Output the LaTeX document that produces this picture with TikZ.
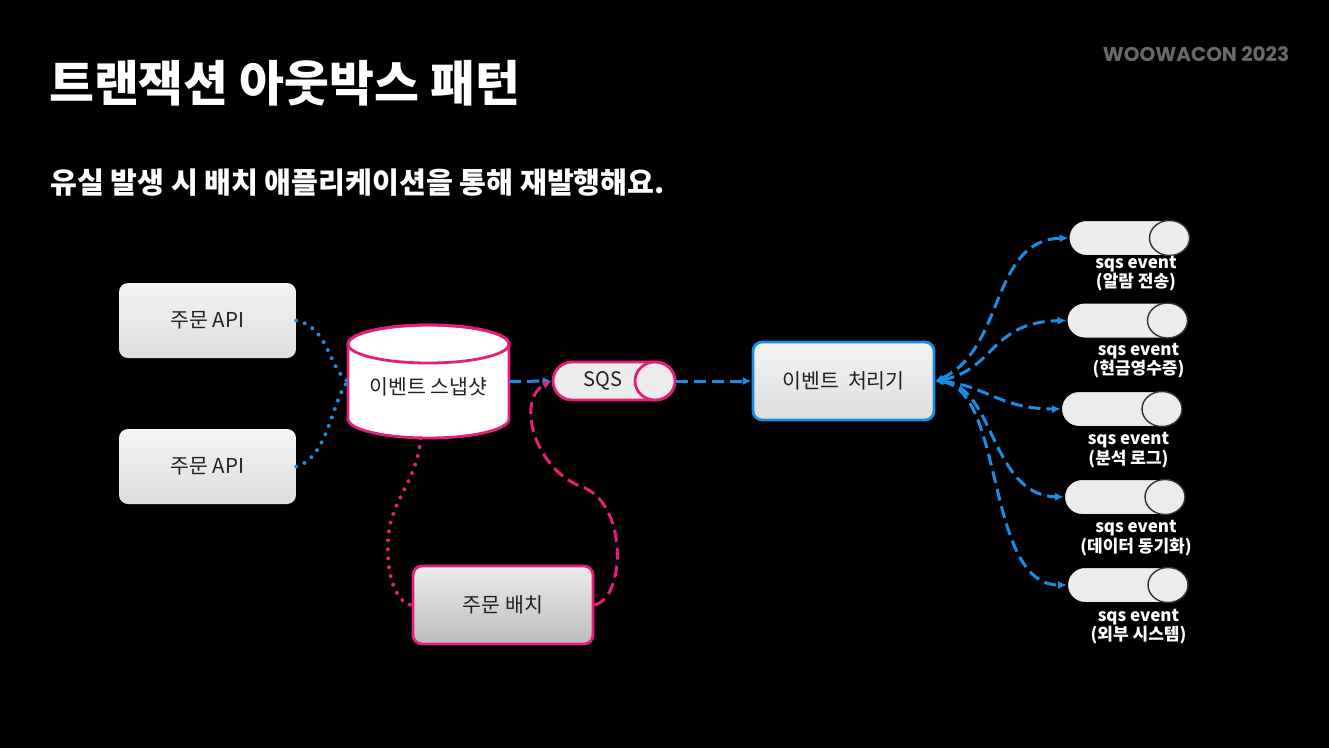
\documentclass[tikz,border=0pt]{standalone}
\usepackage{fontspec}
\setmainfont{Noto Sans CJK KR}
\newfontfamily\brandfont{Poppins}
\usetikzlibrary{arrows.meta}
\definecolor{pinkc}{RGB}{230,30,122}
\definecolor{bluec}{RGB}{25,140,228}
\definecolor{boxgray}{RGB}{236,236,236}
\definecolor{boxgrayb}{RGB}{222,222,222}
\definecolor{txtdark}{RGB}{34,34,34}
\definecolor{wgray}{RGB}{105,105,105}
\tikzset{
  apibox/.style={rectangle, rounded corners=9pt, minimum width=177pt, minimum height=75pt,
    top color=boxgray!60!white, bottom color=boxgrayb, draw=none, text=txtdark,
    font=\fontsize{20.5}{24}\selectfont},
  batchbox/.style={rectangle, rounded corners=9pt, minimum width=180pt, minimum height=78pt,
    top color=boxgray, bottom color=boxgrayb!85!black, draw=pinkc, line width=2.8pt, text=txtdark,
    font=\fontsize{20.5}{24}\selectfont},
  procbox/.style={rectangle, rounded corners=9pt, minimum width=181pt, minimum height=78pt,
    top color=boxgray!60!white, bottom color=boxgrayb, draw=bluec, line width=2.8pt, text=txtdark,
    font=\fontsize{20.5}{24}\selectfont},
  pill/.style={rectangle, rounded corners=17.5pt, minimum width=120pt, minimum height=35pt,
    fill=boxgray, draw=black, line width=1pt, inner sep=0pt},
  pillcap/.style={fill=boxgray, draw=black!80, line width=1.4pt},
  evlabel/.style={text=white, align=center, font=\bfseries\fontsize{17}{19.5}\selectfont, inner sep=0pt},
  bdot/.style={draw=bluec, line width=4pt, line cap=round, dash pattern=on 0pt off 9pt},
  pdot/.style={draw=pinkc, line width=4pt, line cap=round, dash pattern=on 0pt off 9pt},
  bdash/.style={draw=bluec, line width=3pt, dash pattern=on 12pt off 6pt},
  pdash/.style={draw=pinkc, line width=3pt, dash pattern=on 12pt off 6pt},
  btip/.style={-{Latex[length=9pt,width=8pt]}},
}
\begin{document}
\begin{tikzpicture}[x=1pt,y=-1pt]
\fill[black] (0,0) rectangle (1329,748);
\useasboundingbox (0,0) rectangle (1329,748);

% titles
\node[anchor=west, text=white, font=\bfseries\fontsize{48.8}{54}\selectfont, inner sep=0pt] (title) at (49,83) {트랜잭션 아웃박스 패턴};
\node[anchor=west, text=white, font=\bfseries\fontsize{29.2}{33}\selectfont, inner sep=0pt] (subtitle) at (50,183) {유실 발생 시 배치 애플리케이션을 통해 재발행해요.};
\node[text=wgray, font=\brandfont\bfseries\fontsize{20}{24}\selectfont, inner sep=0pt] (brand) at (1196,54) {WOOWACON 2023};

% left boxes
\node[apibox] (api1) at (207.5,320.5) {주문 API};
\node[apibox] (api2) at (207.5,466.5) {주문 API};

% cylinder
\path[fill=white, draw=pinkc, line width=2.8pt]
  (348,344) -- (348,419) arc (180:360:80.5pt and 19pt) -- (509,344) arc (0:180:80.5pt and 19pt) -- cycle;
\draw[pinkc, line width=2.8pt] (428.5,344) ellipse (80.5pt and 19pt);
\node[minimum width=161pt, minimum height=113pt, inner sep=0pt] (snap) at (428.5,381.5) {};
\node[text=txtdark, font=\fontsize{20.5}{24}\selectfont] (snaplbl) at (428.5,387) {이벤트 스냅샷};

% SQS
\node[rectangle, rounded corners=19pt, minimum width=122pt, minimum height=38pt, fill=boxgray, draw=pinkc, line width=2.8pt, inner sep=0pt] (sqs) at (614,381) {};
\draw[fill=boxgray, draw=pinkc, line width=2.8pt] (655,381) ellipse (20pt and 19pt);
\node[text=txtdark, font=\fontsize{20}{24}\selectfont] (sqslbl) at (603,381) {SQS};

% processor
\node[procbox] (proc) at (843.5,381) {이벤트\hspace{0.45em}처리기};

% batch
\node[batchbox] (batch) at (503,605) {주문 배치};

% right pills
\node[pill] (ev1) at (1129,238) {};
\node[pill] (ev2) at (1127,320.5) {};
\node[pill] (ev3) at (1121.5,409) {};
\node[pill] (ev4) at (1124.5,497) {};
\node[pill] (ev5) at (1127.5,585) {};
\foreach \n in {ev1,ev2,ev3,ev4,ev5}{
  \draw[pillcap] ([xshift=-20pt]\n.east) ellipse (20pt and 17.5pt);
}
\node[evlabel] (l1) at (1136,273.5) {sqs event\\(알람 전송)};
\node[evlabel] (l2) at (1138.5,360.5) {sqs event\\(현금영수증)};
\node[evlabel] (l3) at (1128.5,450) {sqs event\\(분석 로그)};
\node[evlabel] (l4) at (1136,538) {sqs event\\(데이터 동기화)};
\node[evlabel] (l5) at (1138.5,626.5) {sqs event\\(외부 시스템)};

% connectors
\draw[bdot] (api1.east) .. controls (330,328) and (328,368) .. (snap.west);
\draw[bdot] (api2.east) .. controls (328,458) and (332,400) .. (snap.west);
\draw[bdash, btip] (snap.east) -- (sqs.west);
\draw[bdash, btip] (sqs.east) -- (proc.west);
\draw[pdash, -{Latex[length=9pt,width=8pt]}] (batch.east) .. controls (625,598) and (628,508) .. (585,488)
  .. controls (535,472) and (515,400) .. (sqs.west);
\draw[pdot] ([xshift=-8pt]snap.south) .. controls (418,480) and (390,500) .. (388,540)
  .. controls (386,580) and (398,603) .. (batch.west);

\draw[bdash, {Latex[length=8pt,width=7pt]}-{Latex[length=9pt,width=8pt]}] (proc.east) .. controls (1005,350) and (990,240) .. (ev1.west);
\draw[bdash, {Latex[length=8pt,width=7pt]}-{Latex[length=9pt,width=8pt]}] (proc.east) .. controls (995,370) and (990,322) .. (ev2.west);
\draw[bdash, {Latex[length=8pt,width=7pt]}-{Latex[length=9pt,width=8pt]}] (proc.east) .. controls (985,385) and (1000,409) .. (ev3.west);
\draw[bdash, {Latex[length=8pt,width=7pt]}-{Latex[length=9pt,width=8pt]}] (proc.east) .. controls (995,385) and (990,495) .. (ev4.west);
\draw[bdash, {Latex[length=8pt,width=7pt]}-{Latex[length=9pt,width=8pt]}] (proc.east) .. controls (1005,390) and (985,585) .. (ev5.west);
\end{tikzpicture}
\end{document}
